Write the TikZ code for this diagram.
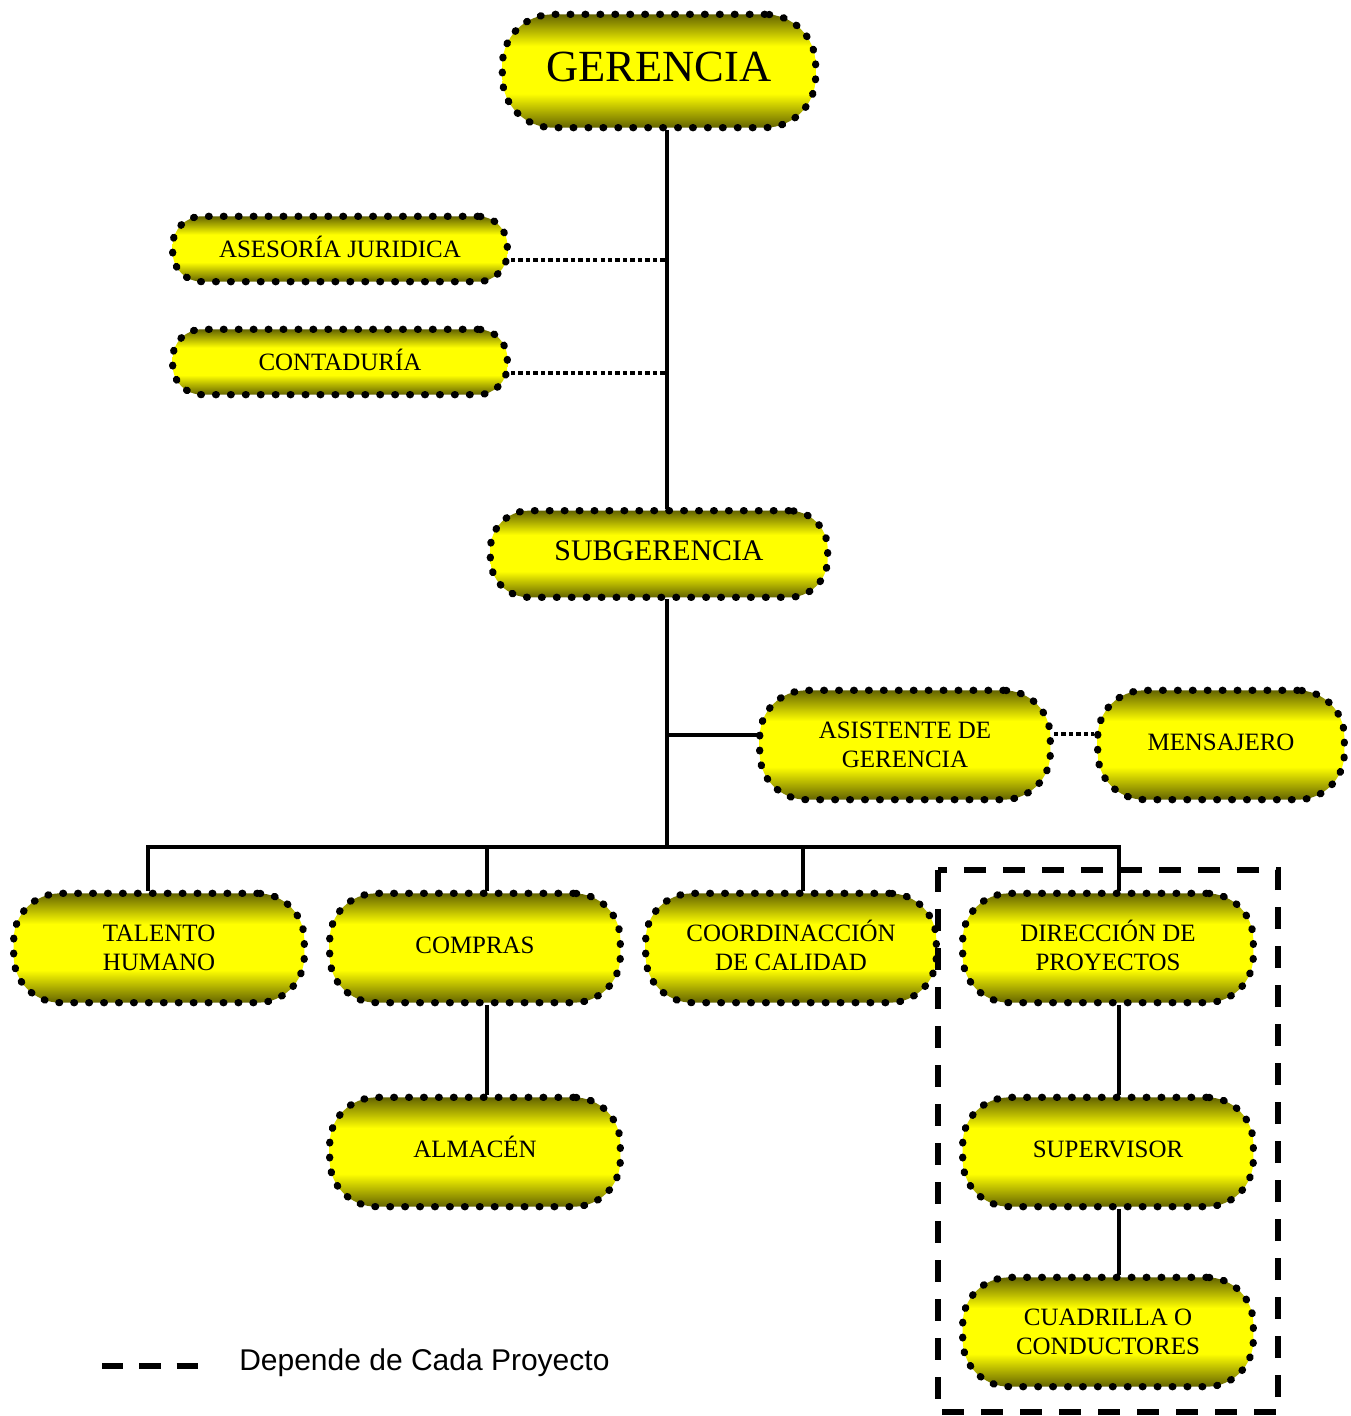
\documentclass[tikz,border=0pt]{standalone}
\usepackage{fontspec}
\setmainfont{Liberation Serif}
\setsansfont{Liberation Sans}
\usetikzlibrary{calc}
\definecolor{darkol}{RGB}{100,100,0}
\definecolor{brightyel}{RGB}{255,255,0}
\pgfdeclareverticalshading{yelshade}{100bp}{color(0bp)=(darkol); color(25bp)=(darkol); color(40bp)=(brightyel); color(61bp)=(brightyel); color(75bp)=(darkol); color(100bp)=(darkol)}
\begin{document}
\begin{tikzpicture}[x=0.75pt,y=-0.75pt,
  box/.style={draw=black, line width=5.4pt, dash pattern=on 0.6pt off 10.6pt, line cap=round,
    shading=yelshade, align=center,
    inner sep=0pt, font=\fontsize{18.7}{21.75}\selectfont},
  midbox/.style={box, minimum width=218pt, minimum height=82pt, rounded corners=35pt},
  one/.style={text depth=4.5pt},
  conn/.style={line width=2.6pt, line cap=rect},
  dotl/.style={line width=2.6pt, dash pattern=on 3.3pt off 2.3pt},
  dashbox/.style={line width=3.8pt, dash pattern=on 16.5pt off 12.75pt},
  legdash/.style={line width=4pt, dash pattern=on 16pt off 12pt}]
\useasboundingbox (0,0) rectangle (1351,1416);

% nodes
\node[box, text depth=6pt, minimum width=235pt, minimum height=85pt, rounded corners=38pt,
      font=\fontsize{33.4}{38}\selectfont] (ger) at (659,71) {GERENCIA};
\node[box, minimum width=251pt, minimum height=49pt, rounded corners=22pt] (ase) at (340,249) {ASESOR\smash{Í}A JURIDICA};
\node[box, minimum width=251pt, minimum height=49pt, rounded corners=22pt] (con) at (340,362) {CONTADUR\smash{Í}A};
\node[box, text depth=5.5pt, minimum width=253pt, minimum height=65pt, rounded corners=29pt,
      font=\fontsize{22.4}{26}\selectfont] (sub) at (659,554) {SUBGERENCIA};
\node[midbox] (asi) at (905,745) {ASISTENTE DE\\GERENCIA};
\node[midbox, one, minimum width=185pt] (men) at (1221,745) {MENSAJERO};
\node[midbox] (tal) at (159,948) {TALENTO\\HUMANO};
\node[midbox, one] (com) at (475,948) {COMPRAS};
\node[midbox] (coo) at (791,948) {COORDINACCI\smash{Ó}N\\DE CALIDAD};
\node[midbox] (dir) at (1108,948) {DIRECCI\smash{Ó}N DE\\PROYECTOS};
\node[midbox, one] (alm) at (475,1152) {ALMAC\smash{É}N};
\node[midbox, one] (sup) at (1108,1152) {SUPERVISOR};
\node[midbox] (cua) at (1108,1332) {CUADRILLA O\\CONDUCTORES};

% helper coordinates
\coordinate (t) at (667,0);
\coordinate (ya) at (0,260);
\coordinate (yc) at (0,373);
\coordinate (yas) at (0,735);
\coordinate (ym) at (0,734);
\coordinate (yb) at (0,847);
\coordinate (xa) at (148,0);
\coordinate (xb) at (487,0);
\coordinate (xc) at (803,0);
\coordinate (xd) at (1119,0);

% connectors
\draw[conn] (ger.south -| t) -- (sub.north -| t);
\draw[dotl] (ase.east |- ya) -- (t |- ya);
\draw[dotl] (con.east |- yc) -- (t |- yc);
\draw[conn] (sub.south -| t) -- (t |- yb);
\draw[conn] (t |- yas) -- (asi.west |- yas);
\draw[dotl] (asi.east |- ym) -- (men.west |- ym);
\draw[conn] (tal.north -| xa) -- (xa |- yb) -- (xd |- yb) -- (dir.north -| xd);
\draw[conn] (xb |- yb) -- (com.north -| xb);
\draw[conn] (xc |- yb) -- (coo.north -| xc);
\draw[conn] (com.south -| xb) -- (alm.north -| xb);
\draw[conn] (dir.south -| xd) -- (sup.north -| xd);
\draw[conn] (sup.south -| xd) -- (cua.north -| xd);

% project frame
\draw[dashbox] (938,870) rectangle (1278,1412);

% legend
\coordinate (l1) at (102,1366);
\coordinate (l2) at (206,1366);
\draw[legdash] (l1) -- (l2);
\node[anchor=west, inner sep=0pt, font=\sffamily\fontsize{22.5}{25}\selectfont] (leg) at (239,1363) {Depende de Cada Proyecto};
\end{tikzpicture}
\end{document}
